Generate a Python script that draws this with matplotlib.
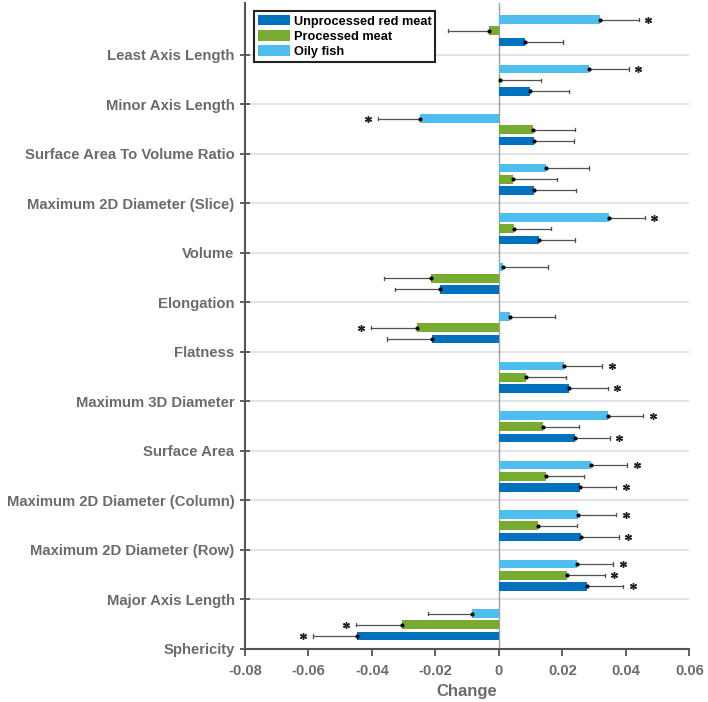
import matplotlib
matplotlib.use("Agg")
import matplotlib.pyplot as plt
from matplotlib.patches import Patch
import numpy as np

# Categories listed from bottom to top
categories = ["Sphericity", "Major Axis Length", "Maximum 2D Diameter (Row)",
              "Maximum 2D Diameter (Column)", "Surface Area", "Maximum 3D Diameter",
              "Flatness", "Elongation", "Volume", "Maximum 2D Diameter (Slice)",
              "Surface Area To Volume Ratio", "Minor Axis Length", "Least Axis Length"]

series_names = ["Unprocessed red meat", "Processed meat", "Oily fish"]

unprocessed = [-0.0447, 0.0278, 0.0258, 0.0255, 0.0240, 0.0222,
               -0.0210, -0.0186, 0.0125, 0.0111, 0.0110, 0.0098, 0.0081]
processed = [-0.0306, 0.0215, 0.0124, 0.0149, 0.0140, 0.0086,
             -0.0259, -0.0215, 0.0047, 0.0044, 0.0106, 0.0004, -0.0032]
oily_fish = [-0.0085, 0.0247, 0.0250, 0.0289, 0.0343, 0.0205,
             0.0036, 0.0013, 0.0346, 0.0150, -0.0250, 0.0284, 0.0319]

# one-sided error (CI half width), drawn outward from the bar end
unprocessed_err = [0.0140, 0.0114, 0.0120, 0.0114, 0.0110, 0.0121,
                   0.0141, 0.0141, 0.0114, 0.0133, 0.0128, 0.0123, 0.0120]
processed_err = [0.0145, 0.0118, 0.0122, 0.0119, 0.0114, 0.0125,
                 0.0145, 0.0146, 0.0117, 0.0138, 0.0133, 0.0129, 0.0129]
oily_fish_err = [0.0138, 0.0114, 0.0119, 0.0115, 0.0112, 0.0120,
                 0.0141, 0.0142, 0.0114, 0.0133, 0.0131, 0.0125, 0.0122]

unprocessed_sig = [1, 1, 1, 1, 1, 1, 0, 0, 0, 0, 0, 0, 0]
processed_sig = [1, 1, 0, 0, 0, 0, 1, 0, 0, 0, 0, 0, 0]
oily_fish_sig = [0, 1, 1, 1, 1, 1, 0, 0, 1, 0, 1, 1, 1]

xticks = [-0.08, -0.06, -0.04, -0.02, 0, 0.02, 0.04, 0.06]
xtick_labels = ["-0.08", "-0.06", "-0.04", "-0.02", "0", "0.02", "0.04", "0.06"]

colors = ["#0072BD", "#77AC30", "#4DBEEE"]
gray_text = "#6b6b6b"
FONT = "Liberation Sans"

fig = plt.figure(figsize=(7.08, 7.02), dpi=100)
ax = fig.add_axes([0.346, 0.0755, 0.6276, 0.9202])

n = len(categories)
base = np.arange(n) + 0.49
offsets = [-0.227, 0.0, 0.227]
bar_h = 0.175

data = [(unprocessed, unprocessed_err, unprocessed_sig),
        (processed, processed_err, processed_sig),
        (oily_fish, oily_fish_err, oily_fish_sig)]

# grid lines and zero line
for yv in range(1, n):
    ax.axhline(yv, color="#e3e3e3", lw=1.4, zorder=0)
ax.axvline(0, color="#a0a0a0", lw=1.0, zorder=1)

for (vals, errs, sig), col, off in zip(data, colors, offsets):
    vals = np.array(vals)
    errs = np.array(errs)
    ys = base + off
    ax.barh(ys, vals, height=bar_h, color=col, edgecolor="none", zorder=2)
    sign = np.sign(vals)
    sign[sign == 0] = 1
    ends = vals + sign * errs
    for y, v, e, s, g in zip(ys, vals, ends, sign, sig):
        ax.plot([v, e], [y, y], color="#505050", lw=0.9, zorder=3)
        ax.plot([e, e], [y - 0.035, y + 0.035], color="#505050", lw=0.9, zorder=3)
        ax.plot([v], [y], "o", color="black", ms=2.0, zorder=4)
        if g:
            ax.plot([e + s * 0.003], [y], marker=(6, 2, 0), color="#222222",
                    ms=5.0, mew=1.0, zorder=4, linestyle="none")

ax.set_xlim(-0.08, 0.06)
ax.set_ylim(0, 13.05)
ax.set_yticks(np.arange(n))
ax.set_yticklabels(categories)
ax.set_xticks(xticks)
ax.set_xticklabels(xtick_labels)

for lab in ax.get_yticklabels():
    lab.set_fontfamily(FONT)
    lab.set_fontweight("bold")
    lab.set_fontsize(10.7)
    lab.set_color(gray_text)
for lab in ax.get_xticklabels():
    lab.set_fontfamily(FONT)
    lab.set_fontweight("bold")
    lab.set_fontsize(10.6)
    lab.set_color(gray_text)

ax.tick_params(axis="y", direction="inout", length=7, width=1.3, color="#555555", pad=4)
ax.tick_params(axis="x", direction="out", length=5, width=1.3, color="#555555", pad=6)

ax.set_xlabel("Change", fontfamily=FONT, fontweight="bold", fontsize=12,
              color=gray_text, labelpad=4)

for side in ["top", "right"]:
    ax.spines[side].set_visible(False)
for side in ["left", "bottom"]:
    ax.spines[side].set_color("#555555")
    ax.spines[side].set_linewidth(1.5)

handles = [Patch(facecolor=c, edgecolor="none") for c in colors]
leg = ax.legend(handles, series_names, loc="upper left",
                bbox_to_anchor=(0.0203, 0.9876), borderaxespad=0,
                prop={"family": FONT, "weight": "bold", "size": 9.2},
                handlelength=2.5, handleheight=0.9, handletextpad=0.3,
                labelspacing=0.2, borderpad=0.3, fancybox=False, framealpha=1)
leg.get_frame().set_edgecolor("#222222")
leg.get_frame().set_linewidth(1.5)

fig.savefig("out.png", dpi=100)
